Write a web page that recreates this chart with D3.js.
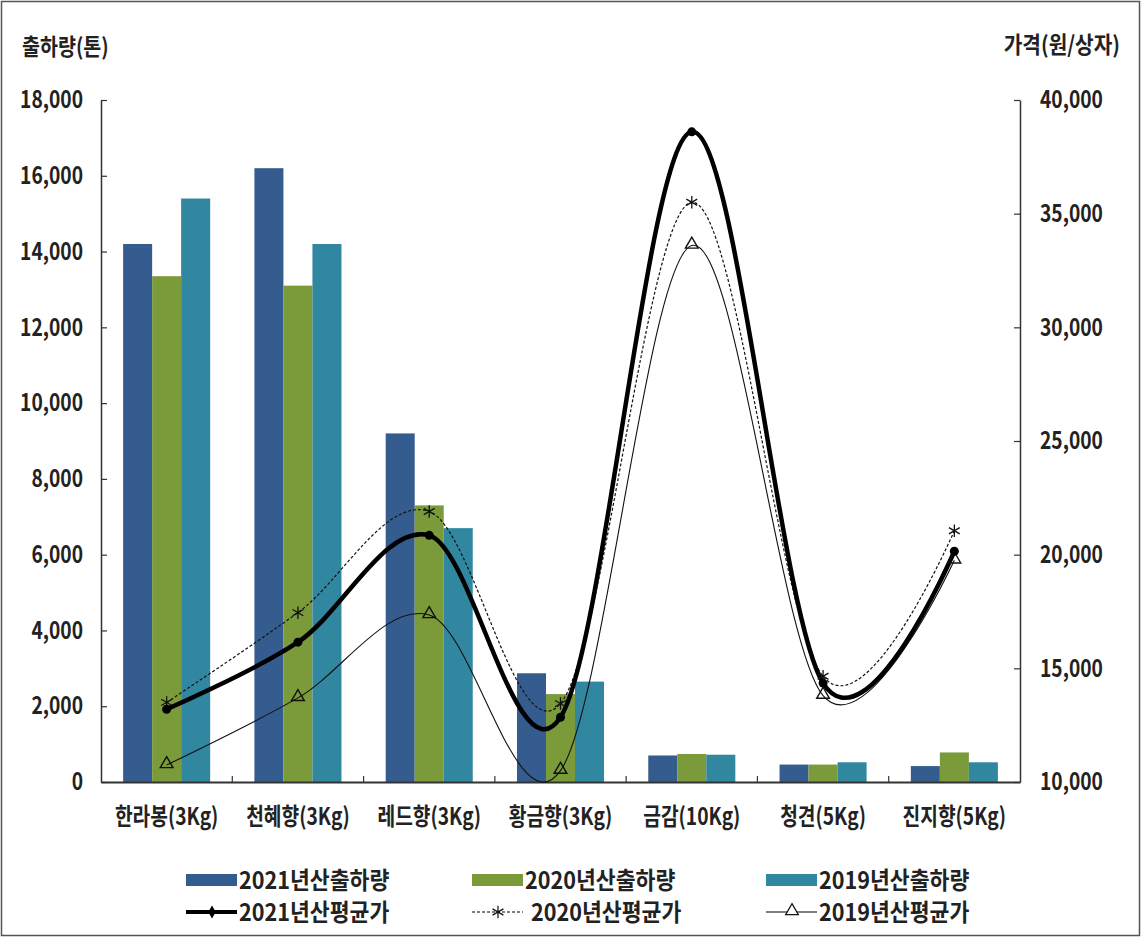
<!DOCTYPE html>
<html><head><meta charset="utf-8">
<script src="https://cdn.jsdelivr.net/npm/d3@7"></script>
<style>
html,body{margin:0;padding:0;background:#fff;}
text{font-family:"Noto Sans CJK KR","Noto Sans",sans-serif;font-weight:700;fill:#222;}
</style></head>
<body><svg id="c" width="1142" height="937"></svg>
<script>
const categories = ["한라봉(3Kg)","천혜향(3Kg)","레드향(3Kg)","황금향(3Kg)","금감(10Kg)","청견(5Kg)","진지향(5Kg)"];
const ship2021 = [14200,16200,9200,2870,700,460,420];
const ship2020 = [13350,13100,7300,2320,740,460,780];
const ship2019 = [15400,14200,6700,2650,720,520,520];
const price2021 = [13200,16150,20850,12850,38600,14350,20150];
const price2020 = [13500,17450,21900,13450,35500,14650,21050];
const price2019 = [10750,13700,17350,10500,33600,13800,19750];
const leftTicks = [0,2000,4000,6000,8000,10000,12000,14000,16000,18000];
const rightTicks = [10000,15000,20000,25000,30000,35000,40000];
const barSeries = ["2021년산출하량","2020년산출하량","2019년산출하량"];
const lineSeries = ["2021년산평균가","2020년산평균가","2019년산평균가"];
const leftTitle = "출하량(톤)";
const rightTitle = "가격(원/상자)";

const barColors = ["#355c8e","#7b9a3a","#3186a0"];
const svg = d3.select("#c");
const L = 101, R = 1020, T = 100, B = 782;

function condense(sel, f){
  sel.each(function(){
    const w = this.getComputedTextLength();
    d3.select(this).attr("textLength", w*f).attr("lengthAdjust","spacingAndGlyphs");
  });
}

svg.append("rect").attr("x",1.5).attr("y",1.5).attr("width",1138).attr("height",934)
  .attr("fill","#fff").attr("stroke","#555").attr("stroke-width",1.5);

const x0 = d3.scaleBand().domain(categories).range([L,R]).paddingInner(0.337).paddingOuter(0.1685);
const x1 = d3.scaleBand().domain(barSeries).range([0,x0.bandwidth()]).padding(0);
const yL = d3.scaleLinear().domain([0,18000]).range([B,T]);
const yR = d3.scaleLinear().domain([10000,40000]).range([B,T]);
const fmt = d3.format(",");

// bars
const shipData = [ship2021, ship2020, ship2019];
const g = svg.append("g");
categories.forEach((c,i)=>{
  barSeries.forEach((s,j)=>{
    g.append("rect")
      .attr("x", x0(c)+x1(s)).attr("width", x1.bandwidth())
      .attr("y", yL(shipData[j][i])).attr("height", B - yL(shipData[j][i]))
      .attr("fill", barColors[j]);
  });
});

// axes
const axL = svg.append("g").attr("transform",`translate(${L},0)`)
  .call(d3.axisLeft(yL).tickValues(leftTicks).tickFormat(fmt).tickSizeInner(-6).tickSizeOuter(0).tickPadding(18));
const axR = svg.append("g").attr("transform",`translate(${R},0)`)
  .call(d3.axisRight(yR).tickValues(rightTicks).tickFormat(fmt).tickSizeInner(-6).tickSizeOuter(0).tickPadding(20));
[axL,axR].forEach(a=>{
  a.selectAll("path").attr("stroke","#333").attr("stroke-width",1.5);
  a.selectAll("line").attr("stroke","#333").attr("stroke-width",1.2);
  a.selectAll("text").attr("font-size",24).attr("fill","#222").attr("font-family",null);
  condense(a.selectAll("text"),0.8);
});
const axB = svg.append("g").attr("transform",`translate(0,${B})`)
  .call(d3.axisBottom(x0).tickSize(0).tickPadding(26));
axB.select("path").attr("stroke","#333").attr("stroke-width",2);
axB.selectAll("text").attr("font-size",24).attr("fill","#222").attr("font-family",null);
condense(axB.selectAll("text"),0.8);
const xb = d3.scaleLinear().domain([0,categories.length]).range([L,R]);
svg.append("g").selectAll("line").data(d3.range(1,categories.length)).join("line")
  .attr("x1",d=>xb(d)).attr("x2",d=>xb(d)).attr("y1",B).attr("y2",B-6)
  .attr("stroke","#333").attr("stroke-width",1.2);

// titles
svg.append("text").attr("x",22).attr("y",55).attr("font-size",23).text(leftTitle).call(condense,0.85);
svg.append("text").attr("x",1120).attr("y",53).attr("text-anchor","end").attr("font-size",23).text(rightTitle).call(condense,0.88);

// lines
const cx = c => x0(c) + x0.bandwidth()/2;
const lineGen = d3.line().x((d,i)=>cx(categories[i])).y(d=>yR(d)).curve(d3.curveCardinal.tension(0));
svg.append("path").datum(price2019).attr("d",lineGen).attr("fill","none").attr("stroke","#111").attr("stroke-width",1.1);
svg.append("path").datum(price2020).attr("d",lineGen).attr("fill","none").attr("stroke","#111").attr("stroke-width",1.2).attr("stroke-dasharray","3,2");
svg.append("path").datum(price2021).attr("d",lineGen).attr("fill","none").attr("stroke","#000").attr("stroke-width",4.5);

const tri = d3.symbol(d3.symbolTriangle, 70);
const ast = d3.symbol(d3.symbolAsterisk, 110);
svg.append("g").selectAll("path").data(price2019).join("path")
  .attr("transform",(d,i)=>`translate(${cx(categories[i])},${yR(d)-1})`).attr("d",tri)
  .attr("fill","none").attr("stroke","#111").attr("stroke-width",1.4);
svg.append("g").selectAll("path").data(price2020).join("path")
  .attr("transform",(d,i)=>`translate(${cx(categories[i])},${yR(d)})`).attr("d",ast)
  .attr("fill","none").attr("stroke","#111").attr("stroke-width",1.3);
svg.append("g").selectAll("circle").data(price2021).join("circle")
  .attr("cx",(d,i)=>cx(categories[i])).attr("cy",d=>yR(d)).attr("r",4.5).attr("fill","#000");

// legend
const legX = [186,472,766];
const legY = [880,912];
barSeries.forEach((s,j)=>{
  svg.append("rect").attr("x",legX[j]).attr("y",legY[0]-6).attr("width",51).attr("height",12).attr("fill",barColors[j]);
  svg.append("text").attr("x",legX[j]+53).attr("y",legY[0]+9).attr("font-size",24).text(s).call(condense,0.9);
});
const lineStyles = [
  {w:4, dash:null, m:"diamond"},
  {w:1.2, dash:"3,2", m:"ast"},
  {w:1.1, dash:null, m:"tri"}
];
lineSeries.forEach((s,j)=>{
  const st = lineStyles[j];
  const ln = svg.append("line").attr("x1",legX[j]).attr("x2",legX[j]+51).attr("y1",legY[1]).attr("y2",legY[1])
    .attr("stroke","#000").attr("stroke-width",st.w);
  if(st.dash) ln.attr("stroke-dasharray",st.dash);
  const mx = legX[j]+26, my = legY[1];
  if(st.m==="diamond") svg.append("path").attr("transform",`translate(${mx},${my})`).attr("d",d3.symbol(d3.symbolDiamond,50)).attr("fill","#000");
  if(st.m==="ast") svg.append("path").attr("transform",`translate(${mx},${my})`).attr("d",ast).attr("fill","none").attr("stroke","#111").attr("stroke-width",1.2);
  if(st.m==="tri") svg.append("path").attr("transform",`translate(${mx},${my-1})`).attr("d",tri).attr("fill","#fff").attr("stroke","#111").attr("stroke-width",1.2);
  svg.append("text").attr("x",legX[j]+53+(j===1?6:0)).attr("y",legY[1]+9).attr("font-size",24).text(s).call(condense,0.9);
});
</script></body></html>
